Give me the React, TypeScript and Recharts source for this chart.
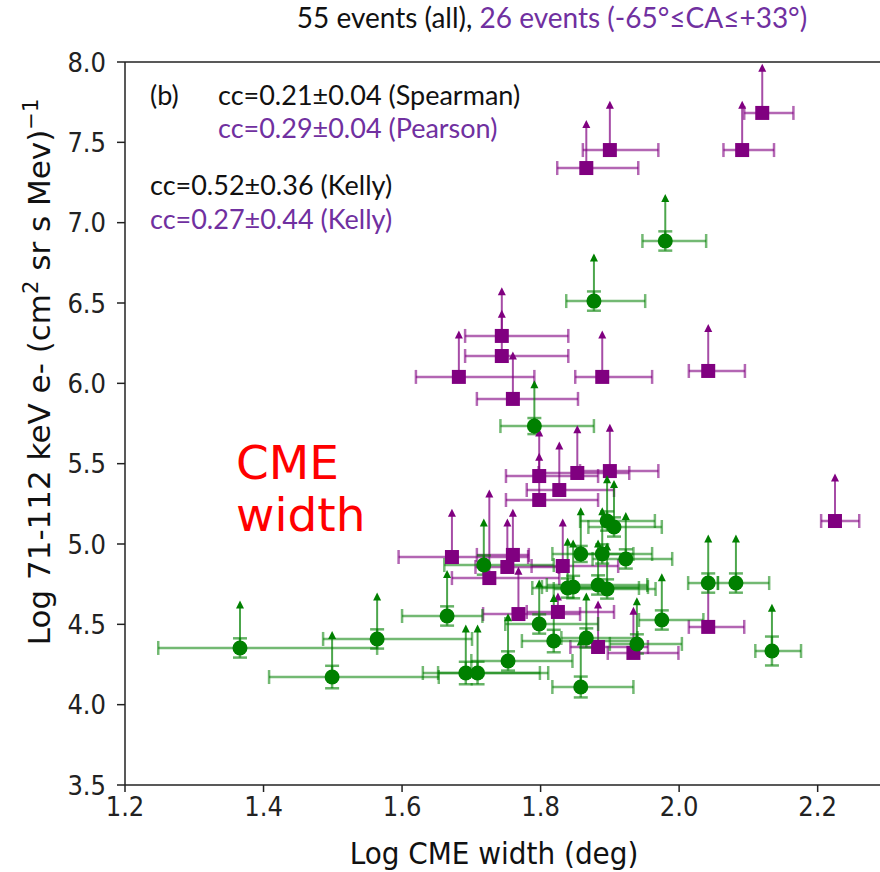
import { ScatterChart, Scatter, XAxis, YAxis, ErrorBar, ReferenceLine } from "recharts";

// purple: 26 events (-65 <= CA <= +33)
const purpleX = [2.120, 2.091, 1.900, 1.866, 1.744, 1.744, 1.682, 1.889, 2.042, 1.760, 1.798, 1.853, 1.900, 1.827, 1.798, 2.225, 1.672, 1.760, 1.752, 1.726, 1.832, 1.768, 1.825, 1.883, 1.934, 2.042];
const purpleY = [7.683, 7.452, 7.452, 7.340, 6.295, 6.170, 6.040, 6.040, 6.077, 5.903, 5.423, 5.442, 5.454, 5.336, 5.274, 5.143, 4.919, 4.932, 4.857, 4.788, 4.863, 4.564, 4.577, 4.359, 4.322, 4.484];
const purpleXLo = [2.094, 2.064, 1.861, 1.824, 1.691, 1.691, 1.620, 1.850, 2.014, 1.708, 1.750, 1.797, 1.857, 1.780, 1.750, 2.205, 1.595, 1.708, 1.706, 1.672, 1.787, 1.717, 1.780, 1.843, 1.897, 2.014];
const purpleXHi = [2.165, 2.137, 1.970, 1.941, 1.840, 1.840, 1.791, 1.961, 2.095, 1.854, 1.883, 1.928, 1.970, 1.906, 1.883, 2.260, 1.782, 1.783, 1.826, 1.827, 1.912, 1.857, 1.906, 1.955, 1.999, 2.094];
const purpleTop = [7.97, 7.74, 7.74, 7.62, 6.58, 6.44, 6.31, 6.31, 6.35, 6.18, 5.70, 5.72, 5.73, 5.62, 5.55, 5.42, 5.20, 5.20, 5.14, 5.32, 5.14, 4.84, 4.68, 4.63, 4.59, 4.76];

// green: the other events
const greenX = [1.980, 1.877, 1.791, 1.896, 1.906, 1.718, 1.858, 1.889, 1.923, 2.042, 2.082, 1.847, 1.883, 1.896, 1.798, 1.819, 1.866, 1.939, 1.975, 1.858, 2.134, 1.753, 1.692, 1.709, 1.499, 1.366, 1.564, 1.665, 1.839];
const greenY = [6.886, 6.512, 5.734, 5.143, 5.106, 4.869, 4.938, 4.938, 4.907, 4.757, 4.757, 4.732, 4.745, 4.720, 4.502, 4.396, 4.415, 4.378, 4.527, 4.110, 4.334, 4.272, 4.197, 4.197, 4.172, 4.353, 4.409, 4.552, 4.726];
const greenXLo = [1.947, 1.837, 1.742, 1.857, 1.869, 1.661, 1.817, 1.853, 1.875, 2.013, 2.056, 1.802, 1.809, 1.819, 1.749, 1.773, 1.830, 1.900, 1.942, 1.817, 2.110, 1.700, 1.630, 1.652, 1.408, 1.248, 1.486, 1.600, 1.788];
const greenXHi = [2.039, 1.951, 1.877, 1.965, 1.975, 1.819, 1.934, 1.961, 1.990, 2.056, 2.130, 1.955, 1.954, 1.966, 1.883, 1.939, 1.940, 2.004, 2.035, 1.934, 2.176, 1.846, 1.799, 1.811, 1.653, 1.564, 1.701, 1.716, 1.942];
const greenTop = [7.16, 6.79, 6.00, 5.41, 5.38, 5.14, 5.21, 5.21, 5.18, 5.04, 5.04, 5.01, 5.01, 4.99, 4.76, 4.67, 4.68, 4.65, 4.80, 4.40, 4.61, 4.55, 4.48, 4.48, 4.44, 4.63, 4.68, 4.82, 5.02];
const greenYErr = [0.06, 0.06, 0.05, 0.06, 0.06, 0.06, 0.05, 0.06, 0.06, 0.06, 0.06, 0.07, 0.06, 0.06, 0.06, 0.07, 0.06, 0.06, 0.06, 0.065, 0.09, 0.06, 0.07, 0.07, 0.07, 0.06, 0.06, 0.06, 0.06];

const xTicks = [1.2, 1.4, 1.6, 1.8, 2.0, 2.2];
const yTicks = [3.5, 4.0, 4.5, 5.0, 5.5, 6.0, 6.5, 7.0, 7.5, 8.0];

const PURPLE = "#800080";
const GREEN = "#008000";
const TEXT_PURPLE = "#7030A0";
const tickFont = "'DejaVu Sans Condensed', 'Liberation Sans Narrow', 'DejaVu Sans', sans-serif";
const noteFont = "Lato, 'Open Sans', sans-serif";

const build = (xs: number[], ys: number[], lo: number[], hi: number[], top: number[], yErr?: number[]) =>
  xs.map((x, i) => ({
    x,
    y: ys[i],
    xe: [x - lo[i], hi[i] - x],
    up: [0, top[i] - ys[i]],
    ye: yErr ? yErr[i] : 0,
  }));

const purpleData = build(purpleX, purpleY, purpleXLo, purpleXHi, purpleTop);
const greenData = build(greenX, greenY, greenXLo, greenXHi, greenTop, greenYErr);
const purpleArrows = purpleX.map((x, i) => ({ x, y: purpleTop[i] }));
const greenArrows = greenX.map((x, i) => ({ x, y: greenTop[i] }));

const Square = (props: any) => {
  const { cx, cy } = props;
  return <rect x={cx - 7} y={cy - 7} width={14} height={14} fill={PURPLE} />;
};

const Dot = (props: any) => {
  const { cx, cy } = props;
  return <circle cx={cx} cy={cy} r={7.5} fill={GREEN} />;
};

const arrowHead = (color: string) => (props: any) => {
  const { cx, cy } = props;
  return <path d={`M${cx - 4},${cy + 5} L${cx + 4},${cy + 5} L${cx},${cy - 3} Z`} fill={color} />;
};

const App = () => {
  return (
    <div style={{ position: "absolute", left: 0, top: 0, width: 880, height: 872 }}>
      <ScatterChart
        width={880}
        height={872}
        margin={{ top: 62, right: 0, bottom: 37, left: 65 }}
      >
        <XAxis
          type="number"
          dataKey="x"
          domain={[1.2, 2.29]}
          ticks={xTicks}
          tickFormatter={(v: number) => v.toFixed(1)}
          allowDataOverflow
          height={50}
          tickSize={7}
          tickMargin={5}
          stroke="#222"
          strokeWidth={1.5}
          tick={{ fill: "#222", fontSize: 27, fontFamily: tickFont }}
        />
        <YAxis
          type="number"
          dataKey="y"
          domain={[3.5, 8.0]}
          ticks={yTicks}
          tickFormatter={(v: number) => v.toFixed(1)}
          allowDataOverflow
          width={60}
          tickSize={8}
          tickMargin={11}
          stroke="#222"
          strokeWidth={1.5}
          tick={{ fill: "#222", fontSize: 27, fontFamily: tickFont }}
        />
        <ReferenceLine y={8.0} stroke="#222" strokeWidth={1.5} />

        <Scatter data={purpleData} shape={Square} isAnimationActive={false}>
          <ErrorBar dataKey="xe" direction="x" width={7} stroke={PURPLE} strokeOpacity={0.6} strokeWidth={2.5} />
          <ErrorBar dataKey="up" direction="y" width={0} stroke={PURPLE} strokeOpacity={0.7} strokeWidth={2} />
        </Scatter>
        <Scatter data={purpleArrows} shape={arrowHead(PURPLE)} isAnimationActive={false} />

        <Scatter data={greenData} shape={Dot} isAnimationActive={false}>
          <ErrorBar dataKey="xe" direction="x" width={7} stroke={GREEN} strokeOpacity={0.55} strokeWidth={2.5} />
          <ErrorBar dataKey="up" direction="y" width={0} stroke={GREEN} strokeOpacity={0.7} strokeWidth={2} />
          <ErrorBar dataKey="ye" direction="y" width={7} stroke={GREEN} strokeOpacity={0.6} strokeWidth={2.5} />
        </Scatter>
        <Scatter data={greenArrows} shape={arrowHead(GREEN)} isAnimationActive={false} />
      </ScatterChart>

      <svg width={880} height={872} style={{ position: "absolute", left: 0, top: 0, pointerEvents: "none" }}>
        <text x={552} y={28} textAnchor="middle" fontFamily={noteFont} fontSize={28} fill="#111">
          55 events (all), <tspan fill={TEXT_PURPLE}>26 events (-65°≤CA≤+33°)</tspan>
        </text>
        <text x={150} y={105} fontFamily={noteFont} fontSize={27} fill="#111">(b)</text>
        <text x={218} y={105} fontFamily={noteFont} fontSize={27} fill="#111">cc=0.21±0.04 (Spearman)</text>
        <text x={218} y={138} fontFamily={noteFont} fontSize={27} fill={TEXT_PURPLE}>cc=0.29±0.04 (Pearson)</text>
        <text x={150} y={195} fontFamily={noteFont} fontSize={27} fill="#111">cc=0.52±0.36 (Kelly)</text>
        <text x={150} y={229} fontFamily={noteFont} fontSize={27} fill={TEXT_PURPLE}>cc=0.27±0.44 (Kelly)</text>
        <text x={236} y={479} fontFamily="'DejaVu Sans', sans-serif" fontSize={47} fill="#ff0000">CME</text>
        <text x={236} y={531} fontFamily="'DejaVu Sans', sans-serif" fontSize={47} fill="#ff0000">width</text>
        <text x={494} y={864} textAnchor="middle" fontFamily={tickFont} fontSize={31} fill="#111">
          Log CME width (deg)
        </text>
        <text
          transform="translate(50,372) rotate(-90)"
          textAnchor="middle"
          fontFamily="'DejaVu Sans', sans-serif"
          fontSize={31}
          fill="#111"
        >
          Log 71-112 keV e- (cm<tspan dy={-12} fontSize={21}>2</tspan>
          <tspan dy={12}> sr s Mev)</tspan>
          <tspan dy={-12} fontSize={21}>−1</tspan>
        </text>
      </svg>
    </div>
  );
};

export default App;
